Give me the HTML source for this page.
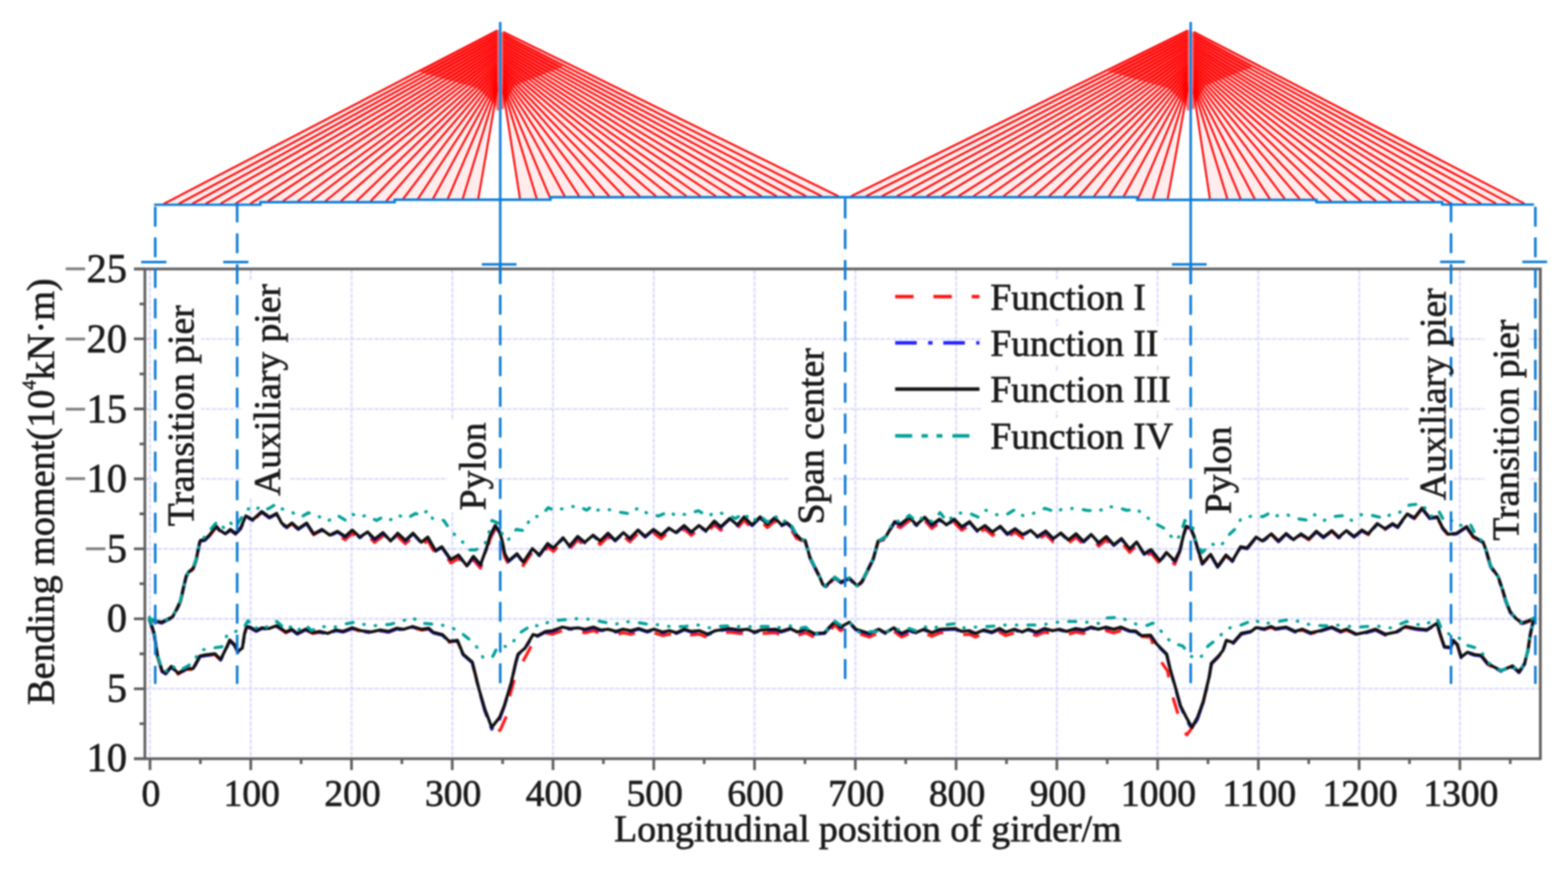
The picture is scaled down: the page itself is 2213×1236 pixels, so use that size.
<!DOCTYPE html>
<html><head><meta charset="utf-8"><style>
html,body{margin:0;padding:0;background:#fff;width:2213px;height:1236px;overflow:hidden}
svg{display:block}
#w{filter:blur(1px)}
text{stroke:#1a1a1a;stroke-width:0.9px}
</style></head><body>
<div id="w"><svg width="2213" height="1236" viewBox="0 0 2213 1236">
<path d="M211.7 381.5V1068.5M353.9 381.5V1068.5M496.1 381.5V1068.5M638.3 381.5V1068.5M780.5 381.5V1068.5M922.7 381.5V1068.5M1064.9 381.5V1068.5M1207.2 381.5V1068.5M1349.4 381.5V1068.5M1491.6 381.5V1068.5M1633.8 381.5V1068.5M1776.0 381.5V1068.5M1918.2 381.5V1068.5M2060.4 381.5V1068.5M206.5 478.2H2172M206.5 577.0H2172M206.5 675.7H2172M206.5 774.4H2172M206.5 873.1H2172M206.5 971.8H2172" stroke="#eeeefe" stroke-width="2.6" fill="none"/>
<path d="M211.7 381.5V1068.5M353.9 381.5V1068.5M496.1 381.5V1068.5M638.3 381.5V1068.5M780.5 381.5V1068.5M922.7 381.5V1068.5M1064.9 381.5V1068.5M1207.2 381.5V1068.5M1349.4 381.5V1068.5M1491.6 381.5V1068.5M1633.8 381.5V1068.5M1776.0 381.5V1068.5M1918.2 381.5V1068.5M2060.4 381.5V1068.5M206.5 478.2H2172M206.5 577.0H2172M206.5 675.7H2172M206.5 774.4H2172M206.5 873.1H2172M206.5 971.8H2172" stroke="#d8d8fc" stroke-width="2.6" stroke-dasharray="4 4.5" fill="none"/>
<rect x="216" y="425" width="68" height="321" fill="#fff"/>
<rect x="341" y="396" width="68" height="307" fill="#fff"/>
<rect x="631" y="593" width="66" height="130" fill="#fff"/>
<rect x="1113" y="486" width="63" height="257" fill="#fff"/>
<rect x="1688" y="598" width="65" height="130" fill="#fff"/>
<rect x="1989" y="402" width="63" height="307" fill="#fff"/>
<rect x="2095" y="445" width="62" height="321" fill="#fff"/>
<rect x="1385" y="395" width="240" height="55" fill="#fff"/>
<rect x="1385" y="460" width="257" height="55" fill="#fff"/>
<rect x="1385" y="525" width="273" height="55" fill="#fff"/>
<rect x="1385" y="590" width="275" height="55" fill="#fff"/>
<path d="M231.0 287.7L702.0 43.0L702.0 125.0L675.0 280.6ZM1183.5 277.0L710.0 45.0L710.0 128.0L733.9 280.6ZM1201.0 277.0L1676.5 43.0L1676.5 125.0L1648.0 280.8ZM2151.7 287.4L1684.5 45.0L1684.5 128.0L1707.6 280.8Z" fill="#ff0000" fill-opacity="0.07"/>
<path d="M704.0 42 L589.0 100.5 L674.5 124.6 L699.0 148 L701.0 156 L704.0 156ZM708.0 45 L794.7 93.7 L726.0 121 L712.0 146 L711.0 154 L708.0 154ZM1678.5 42 L1563.5 100.5 L1649.0 124.6 L1673.5 148 L1675.5 156 L1678.5 156ZM1682.5 45 L1769.2 93.7 L1700.5 121 L1686.5 146 L1685.5 154 L1682.5 154Z" fill="#ff0000" fill-opacity="0.6"/>
<path d="M231.0 287.7L702.0 43.0M252.0 287.7L702.0 46.9M271.0 287.7L702.0 50.8M290.0 287.7L702.0 54.7M311.0 287.7L702.0 58.6M332.0 287.7L702.0 62.5M353.0 287.7L702.0 66.4M378.0 284.0L702.0 70.3M399.0 284.0L702.0 74.2M420.0 284.0L702.0 78.1M439.0 284.0L702.0 82.0M459.0 284.0L702.0 86.0M481.0 284.0L702.0 89.9M503.0 284.0L702.0 93.8M523.0 284.0L702.0 97.7M545.0 284.0L702.0 101.6M569.0 280.6L702.0 105.5M590.0 280.6L702.0 109.4M611.0 280.6L702.0 113.3M632.0 280.6L702.0 117.2M653.0 280.6L702.0 121.1M675.0 280.6L702.0 125.0M1183.5 277.0L710.0 45.0M1160.0 277.0L710.0 49.0M1138.0 277.0L710.0 52.9M1117.0 277.0L710.0 56.9M1096.5 277.0L710.0 60.8M1075.0 277.0L710.0 64.8M1052.5 277.0L710.0 68.7M1032.0 277.0L710.0 72.7M1010.7 277.0L710.0 76.6M989.0 277.0L710.0 80.6M969.0 277.0L710.0 84.5M947.0 277.0L710.0 88.5M926.0 277.0L710.0 92.4M903.0 277.0L710.0 96.4M880.7 277.0L710.0 100.3M860.0 277.0L710.0 104.3M839.0 277.0L710.0 108.2M817.5 277.0L710.0 112.2M797.0 277.0L710.0 116.1M776.8 280.6L710.0 120.1M757.6 280.6L710.0 124.0M733.9 280.6L710.0 128.0M1201.0 277.0L1676.5 43.0M1222.0 277.0L1676.5 46.9M1244.4 277.0L1676.5 50.8M1265.6 277.0L1676.5 54.7M1286.7 277.0L1676.5 58.6M1307.8 277.0L1676.5 62.5M1329.0 277.0L1676.5 66.4M1352.5 277.0L1676.5 70.3M1373.7 277.0L1676.5 74.2M1394.8 277.0L1676.5 78.1M1416.0 277.0L1676.5 82.0M1437.0 277.0L1676.5 86.0M1459.4 277.0L1676.5 89.9M1480.5 277.0L1676.5 93.8M1501.6 277.0L1676.5 97.7M1522.8 277.0L1676.5 101.6M1544.0 277.0L1676.5 105.5M1565.0 277.0L1676.5 109.4M1586.0 277.0L1676.5 113.3M1606.0 280.8L1676.5 117.2M1627.0 280.8L1676.5 121.1M1648.0 280.8L1676.5 125.0M2151.7 287.4L1684.5 45.0M2131.7 287.4L1684.5 49.0M2111.7 287.4L1684.5 52.9M2090.6 287.4L1684.5 56.9M2069.4 287.4L1684.5 60.8M2048.3 287.4L1684.5 64.8M2024.8 284.1L1684.5 68.7M2003.7 284.1L1684.5 72.7M1983.7 284.1L1684.5 76.6M1963.7 284.1L1684.5 80.6M1942.6 284.1L1684.5 84.5M1921.4 284.1L1684.5 88.5M1900.3 284.1L1684.5 92.4M1879.0 284.1L1684.5 96.4M1858.0 284.1L1684.5 100.3M1834.5 280.8L1684.5 104.3M1813.3 280.8L1684.5 108.2M1792.2 280.8L1684.5 112.2M1771.0 280.8L1684.5 116.1M1751.0 280.8L1684.5 120.1M1732.3 280.8L1684.5 124.0M1707.6 280.8L1684.5 128.0" stroke="#ff0000" stroke-width="2.7" fill="none"/>
<path d="M217.4 288.9H367.5V285.2H557V281.8H777V278.2H1605V282.0H1858V285.3H2035.4V288.6H2165" stroke="#0a7ad6" stroke-width="3.4" fill="none"/>
<line x1="706.0" y1="31" x2="706.0" y2="400" stroke="#0a7ad6" stroke-width="3.4"/>
<line x1="1680.5" y1="31" x2="1680.5" y2="400" stroke="#0a7ad6" stroke-width="3.4"/>
<rect x="204.5" y="379.5" width="1969.5" height="691.0" fill="none" stroke="#5e5e5e" stroke-width="3.8"/>
<path d="M189.0 379.5H204.5M189.0 478.2H204.5M189.0 577.0H204.5M189.0 675.7H204.5M189.0 774.4H204.5M189.0 873.1H204.5M189.0 971.8H204.5M189.0 1070.5H204.5M197.0 428.9H204.5M197.0 527.6H204.5M197.0 626.3H204.5M197.0 725.0H204.5M197.0 823.7H204.5M197.0 922.5H204.5M197.0 1021.2H204.5M211.7 1070.5V1086.5M353.9 1070.5V1086.5M496.1 1070.5V1086.5M638.3 1070.5V1086.5M780.5 1070.5V1086.5M922.7 1070.5V1086.5M1064.9 1070.5V1086.5M1207.2 1070.5V1086.5M1349.4 1070.5V1086.5M1491.6 1070.5V1086.5M1633.8 1070.5V1086.5M1776.0 1070.5V1086.5M1918.2 1070.5V1086.5M2060.4 1070.5V1086.5M282.8 1070.5V1078.0M425.0 1070.5V1078.0M567.2 1070.5V1078.0M709.4 1070.5V1078.0M851.6 1070.5V1078.0M993.8 1070.5V1078.0M1136.1 1070.5V1078.0M1278.3 1070.5V1078.0M1420.5 1070.5V1078.0M1562.7 1070.5V1078.0M1704.9 1070.5V1078.0M1847.1 1070.5V1078.0M1989.3 1070.5V1078.0M2131.5 1070.5V1078.0" stroke="#5e5e5e" stroke-width="3.8" fill="none"/>
<g fill="none" stroke-width="4.35" stroke-linejoin="round">
<path d="M211.0 874.2 L220.0 877.2 L228.0 879.2 L236.0 875.2 L243.4 871.8 L249.6 860.2 L254.7 849.2 L259.6 827.2 L263.0 813.2 L266.0 808.7 L272.5 803.2 L277.0 790.2 L281.8 766.2 L283.0 763.7 L289.0 762.7 L296.3 755.4 L305.3 743.7 L309.8 749.1 L318.0 754.5 L325.2 748.2 L332.4 753.6 L339.6 746.2 L346.9 729.2 L350.5 731.0 L356.8 734.6 L369.5 722.9 L380.3 731.0 L390.3 725.6 L397.5 739.2 L404.7 744.6 L412.0 739.2 L421.0 747.2 L432.7 739.2 L442.7 754.5 L454.4 748.2 L465.3 756.3 L476.3 754.5 L487.2 761.7 L497.1 752.7 L508.0 762.6 L518.8 755.4 L528.7 765.4 L540.5 756.3 L551.3 768.1 L561.3 757.2 L572.1 767.2 L583.0 757.2 L594.7 769.9 L603.8 762.6 L614.6 781.6 L623.6 776.2 L636.3 794.3 L647.1 787.9 L658.9 803.3 L668.1 789.8 L678.1 801.5 L687.1 777.1 L691.6 760.8 L698.9 746.4 L705.2 755.4 L708.8 768.1 L712.4 786.1 L717.8 796.1 L729.6 786.1 L738.6 797.9 L751.3 778.9 L761.2 787.9 L773.0 771.7 L781.1 778.0 L794.7 763.5 L803.7 775.3 L815.4 761.7 L825.4 769.9 L837.1 759.9 L847.1 768.1 L858.1 757.2 L868.1 767.1 L879.8 756.3 L888.9 764.4 L900.6 752.6 L910.6 761.7 L922.3 751.7 L933.1 759.9 L944.0 749.9 L953.9 756.3 L965.7 746.3 L975.6 755.4 L986.5 746.3 L996.4 753.5 L1008.2 740.0 L1017.2 748.1 L1029.8 736.4 L1040.7 745.4 L1050.2 734.2 L1061.5 745.6 L1072.8 734.2 L1083.0 744.4 L1093.2 735.4 L1103.4 745.6 L1110.2 742.2 L1117.0 747.8 L1123.8 759.2 L1130.6 762.4 L1136.3 763.5 L1138.5 771.4 L1143.0 787.2 L1148.7 798.6 L1156.6 814.4 L1161.2 825.8 L1165.7 828.0 L1178.2 815.6 L1187.2 822.4 L1198.6 816.7 L1209.9 828.0 L1216.7 821.2 L1223.5 807.7 L1232.5 789.5 L1239.3 764.6 L1243.8 762.4 L1250.6 761.4 L1257.2 749.9 L1262.7 740.9 L1270.8 744.5 L1283.4 734.6 L1293.4 745.4 L1305.1 734.6 L1315.1 745.4 L1325.9 737.3 L1335.9 745.4 L1346.7 737.3 L1357.5 748.1 L1368.4 740.9 L1379.2 753.5 L1390.1 746.3 L1400.9 755.4 L1411.8 747.2 L1421.7 758.1 L1432.6 750.8 L1443.4 759.0 L1454.6 753.1 L1464.3 761.8 L1475.9 754.0 L1486.6 764.7 L1497.3 756.9 L1508.0 766.6 L1518.6 757.9 L1529.3 768.6 L1540.0 758.9 L1550.7 770.5 L1561.4 761.8 L1572.0 773.4 L1582.7 764.7 L1594.4 779.3 L1604.1 769.6 L1614.8 786.1 L1624.5 780.2 L1637.2 796.1 L1646.2 784.3 L1658.0 796.1 L1665.2 778.0 L1670.6 755.4 L1674.2 743.7 L1680.6 746.4 L1685.1 757.2 L1690.5 775.3 L1696.8 796.1 L1708.6 783.4 L1718.5 800.6 L1730.3 784.3 L1739.3 792.5 L1751.0 772.6 L1760.1 774.4 L1772.7 759.0 L1781.8 764.5 L1794.4 754.5 L1804.4 764.5 L1815.3 754.0 L1825.4 762.6 L1836.2 754.5 L1847.1 761.7 L1857.9 750.8 L1867.8 759.0 L1879.6 749.9 L1889.5 759.0 L1900.4 749.9 L1911.2 758.1 L1922.1 749.0 L1931.1 754.5 L1943.8 740.0 L1954.6 747.2 L1965.4 740.0 L1972.7 744.5 L1979.9 734.6 L1986.2 726.4 L1996.2 731.9 L2006.9 718.1 L2017.7 731.9 L2028.4 730.4 L2036.1 745.8 L2043.8 755.0 L2056.1 753.5 L2069.9 744.2 L2079.2 758.1 L2093.0 765.8 L2097.6 778.1 L2103.8 799.6 L2114.5 815.0 L2120.7 833.4 L2125.3 848.8 L2131.4 864.2 L2139.1 873.4 L2147.2 879.7 L2150.0 879.5 L2157.4 877.2 L2165.3 873.2" stroke="#ff1a1a" stroke-dasharray="24 29"/>
<path d="M211.0 874.2 L217.5 894.5 L222.4 926.8 L228.8 947.9 L233.7 951.2 L241.8 941.4 L251.5 951.2 L262.8 944.6 L272.5 944.6 L282.2 926.8 L290.3 925.2 L303.3 923.6 L311.4 931.7 L319.4 915.5 L324.3 904.2 L330.8 910.6 L335.6 920.4 L342.1 915.5 L345.0 895.9 L348.0 885.0 L352.9 886.0 L361.9 891.0 L369.8 887.0 L379.8 888.0 L390.7 884.0 L403.6 892.9 L411.6 889.0 L419.5 894.9 L431.5 889.0 L441.4 893.9 L451.3 892.0 L462.3 894.9 L474.2 890.0 L484.1 892.0 L497.1 887.0 L509.0 891.0 L523.9 892.9 L536.8 890.0 L548.7 892.0 L559.7 887.6 L569.4 889.2 L582.4 885.2 L595.3 889.2 L605.0 887.6 L611.5 893.3 L624.4 896.5 L634.1 906.2 L645.5 904.0 L653.6 923.0 L666.5 935.0 L670.0 948.0 L676.2 973.0 L684.3 1003.0 L692.0 1022.0 L700.0 1033.0 L706.0 1030.0 L715.0 1010.0 L720.0 980.0 L726.4 957.0 L737.7 934.0 L749.0 913.0 L758.0 899.0 L770.0 893.0 L779.9 894.8 L793.8 889.8 L804.7 891.8 L815.7 890.8 L825.6 892.8 L837.5 889.8 L847.5 893.8 L858.4 892.8 L869.3 895.8 L879.3 892.8 L890.2 894.8 L901.2 891.8 L913.1 895.8 L923.0 892.8 L935.0 896.8 L944.9 894.8 L954.8 897.8 L965.8 892.8 L975.0 895.8 L986.9 894.8 L998.8 899.8 L1009.8 894.8 L1029.6 891.8 L1043.6 893.8 L1054.5 892.8 L1064.4 896.8 L1074.4 893.8 L1094.3 892.8 L1102.2 895.8 L1115.1 891.8 L1125.1 896.8 L1137.0 892.8 L1148.9 898.8 L1163.8 897.8 L1170.8 889.8 L1178.7 881.9 L1186.0 889.8 L1198.9 882.9 L1207.8 892.8 L1226.7 898.8 L1240.6 892.8 L1249.6 897.8 L1261.5 890.8 L1272.4 898.8 L1283.4 893.8 L1292.3 897.8 L1304.3 892.8 L1315.2 897.8 L1327.1 892.8 L1348.0 891.8 L1356.9 895.8 L1367.9 894.8 L1376.8 898.8 L1388.7 893.8 L1399.9 896.8 L1410.9 891.8 L1419.8 896.8 L1431.7 892.8 L1442.7 896.8 L1451.6 892.8 L1462.6 896.8 L1474.5 891.8 L1485.4 894.8 L1495.4 892.8 L1505.3 895.8 L1518.2 891.8 L1529.2 893.8 L1540.1 889.8 L1550.0 892.8 L1561.0 889.8 L1571.9 892.8 L1581.8 889.8 L1593.8 894.8 L1603.0 895.5 L1611.0 898.0 L1624.0 899.0 L1632.0 924.0 L1648.0 947.0 L1653.0 976.0 L1660.0 999.0 L1668.0 1026.0 L1675.0 1037.0 L1683.0 1026.0 L1690.3 1012.0 L1698.4 990.0 L1706.5 956.4 L1709.7 937.0 L1719.4 927.2 L1725.9 919.2 L1730.8 904.6 L1740.5 907.8 L1751.8 894.9 L1766.4 891.7 L1772.8 886.8 L1784.2 888.4 L1793.9 885.2 L1800.0 888.0 L1814.9 886.0 L1827.8 892.0 L1837.8 889.0 L1849.7 894.0 L1863.6 891.0 L1879.5 886.0 L1892.4 892.0 L1900.4 889.0 L1914.3 896.0 L1928.2 893.0 L1941.2 889.0 L1955.1 896.0 L1970.0 893.0 L1983.9 885.0 L1998.8 888.0 L2013.6 889.7 L2028.3 880.6 L2032.8 896.5 L2038.5 913.5 L2047.6 914.6 L2051.0 904.4 L2056.6 910.1 L2062.3 928.2 L2071.3 921.4 L2081.5 924.8 L2090.6 925.9 L2099.7 937.3 L2107.6 941.8 L2118.9 947.5 L2134.8 940.7 L2143.8 949.2 L2151.8 937.3 L2156.3 919.2 L2159.7 896.5 L2163.1 880.6 L2164.5 874.2" stroke="#ff1a1a" stroke-dasharray="24 29"/>
<path d="M211.0 874.0 L220.0 877.0 L228.0 879.0 L236.0 875.0 L243.4 871.6 L249.6 860.0 L254.7 849.0 L259.6 827.0 L263.0 813.0 L266.0 808.5 L272.5 803.0 L277.0 790.0 L281.8 766.0 L283.0 763.5 L289.0 762.5 L296.3 755.2 L305.3 743.5 L309.8 748.9 L318.0 754.3 L325.2 748.0 L332.4 753.4 L339.6 746.0 L346.9 729.0 L350.5 730.8 L356.8 734.4 L369.5 722.7 L380.3 730.8 L390.3 725.4 L397.5 739.0 L404.7 744.4 L412.0 739.0 L421.0 747.0 L432.7 739.0 L442.7 754.3 L454.4 748.0 L465.3 756.1 L476.3 750.7 L487.2 757.9 L497.1 748.9 L508.0 758.8 L518.8 751.6 L528.7 761.6 L540.5 752.5 L551.3 764.3 L561.3 753.4 L572.1 763.4 L583.0 753.4 L594.7 766.1 L603.8 758.8 L614.6 777.8 L623.6 772.4 L636.3 790.5 L647.1 784.1 L658.9 799.5 L668.1 786.0 L678.1 797.7 L687.1 773.3 L691.6 757.0 L698.9 742.6 L705.2 751.6 L708.8 764.3 L712.4 782.3 L717.8 792.3 L729.6 782.3 L738.6 794.1 L751.3 775.1 L761.2 784.1 L773.0 767.9 L781.1 774.2 L794.7 759.7 L803.7 771.5 L815.4 757.9 L825.4 766.1 L837.1 756.1 L847.1 764.3 L858.1 753.4 L868.1 763.3 L879.8 752.5 L888.9 760.6 L900.6 748.8 L910.6 757.9 L922.3 747.9 L933.1 756.1 L944.0 746.1 L953.9 752.5 L965.7 742.5 L975.6 751.6 L986.5 742.5 L996.4 749.7 L1008.2 736.2 L1017.2 744.3 L1029.8 732.6 L1040.7 741.6 L1050.2 730.4 L1061.5 741.8 L1072.8 730.4 L1083.0 740.6 L1093.2 731.6 L1103.4 741.8 L1110.2 738.4 L1117.0 744.0 L1123.8 755.4 L1130.6 762.2 L1136.3 763.3 L1138.5 771.2 L1143.0 787.0 L1148.7 798.4 L1156.6 814.2 L1161.2 825.6 L1165.7 827.8 L1178.2 815.4 L1187.2 822.2 L1198.6 816.5 L1209.9 827.8 L1216.7 821.0 L1223.5 807.5 L1232.5 789.3 L1239.3 764.4 L1243.8 762.2 L1250.6 757.6 L1257.2 746.1 L1262.7 737.1 L1270.8 740.7 L1283.4 730.8 L1293.4 741.6 L1305.1 730.8 L1315.1 741.6 L1325.9 733.5 L1335.9 741.6 L1346.7 733.5 L1357.5 744.3 L1368.4 737.1 L1379.2 749.7 L1390.1 742.5 L1400.9 751.6 L1411.8 743.4 L1421.7 754.3 L1432.6 747.0 L1443.4 755.2 L1454.6 749.3 L1464.3 758.0 L1475.9 750.2 L1486.6 760.9 L1497.3 753.1 L1508.0 762.8 L1518.6 754.1 L1529.3 764.8 L1540.0 755.1 L1550.7 766.7 L1561.4 758.0 L1572.0 769.6 L1582.7 760.9 L1594.4 775.5 L1604.1 765.8 L1614.8 782.3 L1624.5 776.4 L1637.2 792.3 L1646.2 780.5 L1658.0 792.3 L1665.2 777.8 L1670.6 755.2 L1674.2 743.5 L1680.6 746.2 L1685.1 757.0 L1690.5 775.1 L1696.8 795.9 L1708.6 783.2 L1718.5 800.4 L1730.3 784.1 L1739.3 792.3 L1751.0 772.4 L1760.1 774.2 L1772.7 758.8 L1781.8 764.3 L1794.4 754.3 L1804.4 764.3 L1815.3 753.8 L1825.4 762.4 L1836.2 754.3 L1847.1 761.5 L1857.9 750.6 L1867.8 758.8 L1879.6 749.7 L1889.5 758.8 L1900.4 749.7 L1911.2 757.9 L1922.1 748.8 L1931.1 754.3 L1943.8 739.8 L1954.6 747.0 L1965.4 739.8 L1972.7 744.3 L1979.9 734.4 L1986.2 726.2 L1996.2 731.7 L2006.9 717.9 L2017.7 731.7 L2028.4 730.2 L2036.1 745.6 L2043.8 754.8 L2056.1 753.3 L2069.9 744.0 L2079.2 757.9 L2093.0 765.6 L2097.6 777.9 L2103.8 799.4 L2114.5 814.8 L2120.7 833.2 L2125.3 848.6 L2131.4 864.0 L2139.1 873.2 L2147.2 879.5 L2150.0 879.3 L2157.4 877.0 L2165.3 873.0" stroke="#2222ff" stroke-dasharray="32.6 14 8.3 13.1"/>
<path d="M211.0 874.0 L217.5 894.3 L222.4 926.6 L228.8 947.7 L233.7 951.0 L241.8 941.2 L251.5 951.0 L262.8 944.4 L272.5 944.4 L282.2 926.6 L290.3 925.0 L303.3 923.4 L311.4 931.5 L319.4 915.3 L324.3 904.0 L330.8 910.4 L335.6 920.2 L342.1 915.3 L345.0 895.7 L348.0 884.8 L352.9 885.8 L361.9 890.8 L369.8 886.8 L379.8 887.8 L390.7 883.8 L403.6 892.7 L411.6 888.8 L419.5 894.7 L431.5 888.8 L441.4 893.7 L451.3 891.8 L462.3 894.7 L474.2 889.8 L484.1 891.8 L497.1 886.8 L509.0 890.8 L523.9 892.7 L536.8 889.8 L548.7 891.8 L559.7 887.4 L569.4 889.0 L582.4 885.0 L595.3 889.0 L605.0 887.4 L611.5 893.1 L624.4 896.3 L634.1 906.0 L645.5 904.4 L653.6 923.8 L666.5 935.1 L669.7 948.1 L676.2 974.0 L684.3 1003.0 L694.0 1028.9 L705.3 1014.3 L711.8 996.6 L721.5 964.3 L728.0 935.1 L731.2 923.8 L740.9 915.7 L752.3 896.3 L758.7 897.9 L770.0 891.8 L779.9 890.8 L793.8 885.8 L804.7 887.8 L815.7 886.8 L825.6 888.8 L837.5 885.8 L847.5 889.8 L858.4 888.8 L869.3 891.8 L879.3 888.8 L890.2 890.8 L901.2 887.8 L913.1 891.8 L923.0 888.8 L935.0 892.8 L944.9 890.8 L954.8 893.8 L965.8 888.8 L975.0 891.8 L986.9 890.8 L998.8 895.8 L1009.8 890.8 L1029.6 887.8 L1043.6 889.8 L1054.5 888.8 L1064.4 892.8 L1074.4 889.8 L1094.3 888.8 L1102.2 891.8 L1115.1 887.8 L1125.1 892.8 L1137.0 888.8 L1148.9 894.8 L1163.8 893.8 L1170.8 885.8 L1178.7 877.9 L1186.0 885.8 L1198.9 878.9 L1207.8 888.8 L1226.7 894.8 L1240.6 888.8 L1249.6 893.8 L1261.5 886.8 L1272.4 894.8 L1283.4 889.8 L1292.3 893.8 L1304.3 888.8 L1315.2 893.8 L1327.1 888.8 L1348.0 887.8 L1356.9 891.8 L1367.9 890.8 L1376.8 894.8 L1388.7 889.8 L1399.9 892.8 L1410.9 887.8 L1419.8 892.8 L1431.7 888.8 L1442.7 892.8 L1451.6 888.8 L1462.6 892.8 L1474.5 887.8 L1485.4 890.8 L1495.4 888.8 L1505.3 891.8 L1518.2 887.8 L1529.2 889.8 L1540.1 885.8 L1550.0 888.8 L1561.0 885.8 L1571.9 888.8 L1581.8 885.8 L1593.8 890.8 L1603.0 891.5 L1611.0 897.9 L1624.0 897.1 L1632.1 909.3 L1646.6 923.8 L1651.5 944.9 L1658.0 967.5 L1666.0 996.6 L1674.1 1014.3 L1682.2 1028.9 L1690.3 1014.3 L1698.4 990.2 L1706.5 956.2 L1709.7 936.8 L1719.4 927.0 L1725.9 919.0 L1730.8 904.4 L1740.5 907.6 L1751.8 894.7 L1766.4 891.5 L1772.8 886.6 L1784.2 888.2 L1793.9 885.0 L1800.0 887.8 L1814.9 885.8 L1827.8 891.8 L1837.8 888.8 L1849.7 893.8 L1863.6 890.8 L1879.5 885.8 L1892.4 891.8 L1900.4 888.8 L1914.3 895.8 L1928.2 892.8 L1941.2 888.8 L1955.1 895.8 L1970.0 892.8 L1983.9 884.8 L1998.8 887.8 L2013.6 889.5 L2028.3 880.4 L2032.8 896.3 L2038.5 913.3 L2047.6 914.4 L2051.0 904.2 L2056.6 909.9 L2062.3 928.0 L2071.3 921.2 L2081.5 924.6 L2090.6 925.7 L2099.7 937.1 L2107.6 941.6 L2118.9 947.3 L2134.8 940.5 L2143.8 949.0 L2151.8 937.1 L2156.3 919.0 L2159.7 896.3 L2163.1 880.4 L2164.5 874.0" stroke="#2222ff" stroke-dasharray="32.6 14 8.3 13.1"/>
<path d="M211.0 873.0 L220.0 876.0 L228.0 878.0 L236.0 874.0 L243.4 870.6 L249.6 859.0 L254.7 848.0 L259.6 826.0 L263.0 812.0 L266.0 807.5 L272.5 802.0 L277.0 789.0 L281.8 765.0 L283.0 762.5 L289.0 761.5 L296.3 754.2 L305.3 742.5 L309.8 747.9 L318.0 753.3 L325.2 747.0 L332.4 752.4 L339.6 745.0 L346.9 728.0 L350.5 729.8 L356.8 733.4 L369.5 721.7 L380.3 729.8 L390.3 724.4 L397.5 738.0 L404.7 743.4 L412.0 738.0 L421.0 746.0 L432.7 738.0 L442.7 753.3 L454.4 747.0 L465.3 755.1 L476.3 749.7 L487.2 756.9 L497.1 747.9 L508.0 757.8 L518.8 750.6 L528.7 760.6 L540.5 751.5 L551.3 763.3 L561.3 752.4 L572.1 762.4 L583.0 752.4 L594.7 765.1 L603.8 757.8 L614.6 776.8 L623.6 771.4 L636.3 789.5 L647.1 783.1 L658.9 798.5 L668.1 785.0 L678.1 796.7 L687.1 772.3 L691.6 756.0 L698.9 741.6 L705.2 750.6 L708.8 763.3 L712.4 781.3 L717.8 791.3 L729.6 781.3 L738.6 793.1 L751.3 774.1 L761.2 783.1 L773.0 766.9 L781.1 773.2 L794.7 758.7 L803.7 770.5 L815.4 756.9 L825.4 765.1 L837.1 755.1 L847.1 763.3 L858.1 752.4 L868.1 762.3 L879.8 751.5 L888.9 759.6 L900.6 747.8 L910.6 756.9 L922.3 746.9 L933.1 755.1 L944.0 745.1 L953.9 751.5 L965.7 741.5 L975.6 750.6 L986.5 741.5 L996.4 748.7 L1008.2 735.2 L1017.2 743.3 L1029.8 731.6 L1040.7 740.6 L1050.2 729.4 L1061.5 740.8 L1072.8 729.4 L1083.0 739.6 L1093.2 730.6 L1103.4 740.8 L1110.2 737.4 L1117.0 743.0 L1123.8 754.4 L1130.6 761.2 L1136.3 762.3 L1138.5 770.2 L1143.0 786.0 L1148.7 797.4 L1156.6 813.2 L1161.2 824.6 L1165.7 826.8 L1178.2 814.4 L1187.2 821.2 L1198.6 815.5 L1209.9 826.8 L1216.7 820.0 L1223.5 806.5 L1232.5 788.3 L1239.3 763.4 L1243.8 761.2 L1250.6 756.6 L1257.2 745.1 L1262.7 736.1 L1270.8 739.7 L1283.4 729.8 L1293.4 740.6 L1305.1 729.8 L1315.1 740.6 L1325.9 732.5 L1335.9 740.6 L1346.7 732.5 L1357.5 743.3 L1368.4 736.1 L1379.2 748.7 L1390.1 741.5 L1400.9 750.6 L1411.8 742.4 L1421.7 753.3 L1432.6 746.0 L1443.4 754.2 L1454.6 748.3 L1464.3 757.0 L1475.9 749.2 L1486.6 759.9 L1497.3 752.1 L1508.0 761.8 L1518.6 753.1 L1529.3 763.8 L1540.0 754.1 L1550.7 765.7 L1561.4 757.0 L1572.0 768.6 L1582.7 759.9 L1594.4 774.5 L1604.1 764.8 L1614.8 781.3 L1624.5 775.4 L1637.2 791.3 L1646.2 779.5 L1658.0 791.3 L1665.2 776.8 L1670.6 754.2 L1674.2 742.5 L1680.6 745.2 L1685.1 756.0 L1690.5 774.1 L1696.8 794.9 L1708.6 782.2 L1718.5 799.4 L1730.3 783.1 L1739.3 791.3 L1751.0 771.4 L1760.1 773.2 L1772.7 757.8 L1781.8 763.3 L1794.4 753.3 L1804.4 763.3 L1815.3 752.8 L1825.4 761.4 L1836.2 753.3 L1847.1 760.5 L1857.9 749.6 L1867.8 757.8 L1879.6 748.7 L1889.5 757.8 L1900.4 748.7 L1911.2 756.9 L1922.1 747.8 L1931.1 753.3 L1943.8 738.8 L1954.6 746.0 L1965.4 738.8 L1972.7 743.3 L1979.9 733.4 L1986.2 725.2 L1996.2 730.7 L2006.9 716.9 L2017.7 730.7 L2028.4 729.2 L2036.1 744.6 L2043.8 753.8 L2056.1 752.3 L2069.9 743.0 L2079.2 756.9 L2093.0 764.6 L2097.6 776.9 L2103.8 798.4 L2114.5 813.8 L2120.7 832.2 L2125.3 847.6 L2131.4 863.0 L2139.1 872.2 L2147.2 878.5 L2150.0 878.3 L2157.4 876.0 L2165.3 872.0" stroke="#111"/>
<path d="M211.0 873.0 L217.5 893.3 L222.4 925.6 L228.8 946.7 L233.7 950.0 L241.8 940.2 L251.5 950.0 L262.8 943.4 L272.5 943.4 L282.2 925.6 L290.3 924.0 L303.3 922.4 L311.4 930.5 L319.4 914.3 L324.3 903.0 L330.8 909.4 L335.6 919.2 L342.1 914.3 L345.0 894.7 L348.0 883.8 L352.9 884.8 L361.9 889.8 L369.8 885.8 L379.8 886.8 L390.7 882.8 L403.6 891.7 L411.6 887.8 L419.5 893.7 L431.5 887.8 L441.4 892.7 L451.3 890.8 L462.3 893.7 L474.2 888.8 L484.1 890.8 L497.1 885.8 L509.0 889.8 L523.9 891.7 L536.8 888.8 L548.7 890.8 L559.7 886.4 L569.4 888.0 L582.4 884.0 L595.3 888.0 L605.0 886.4 L611.5 892.1 L624.4 895.3 L634.1 905.0 L645.5 903.4 L653.6 922.8 L666.5 934.1 L669.7 947.1 L676.2 973.0 L684.3 1000.5 L694.0 1026.4 L705.3 1011.8 L711.8 995.6 L721.5 963.3 L728.0 934.1 L731.2 922.8 L740.9 914.7 L752.3 895.3 L758.7 896.9 L770.0 890.8 L779.9 889.8 L793.8 884.8 L804.7 886.8 L815.7 885.8 L825.6 887.8 L837.5 884.8 L847.5 888.8 L858.4 887.8 L869.3 890.8 L879.3 887.8 L890.2 889.8 L901.2 886.8 L913.1 890.8 L923.0 887.8 L935.0 891.8 L944.9 889.8 L954.8 892.8 L965.8 887.8 L975.0 890.8 L986.9 889.8 L998.8 894.8 L1009.8 889.8 L1029.6 886.8 L1043.6 888.8 L1054.5 887.8 L1064.4 891.8 L1074.4 888.8 L1094.3 887.8 L1102.2 890.8 L1115.1 886.8 L1125.1 891.8 L1137.0 887.8 L1148.9 893.8 L1163.8 892.8 L1170.8 884.8 L1178.7 876.9 L1186.0 884.8 L1198.9 877.9 L1207.8 887.8 L1226.7 893.8 L1240.6 887.8 L1249.6 892.8 L1261.5 885.8 L1272.4 893.8 L1283.4 888.8 L1292.3 892.8 L1304.3 887.8 L1315.2 892.8 L1327.1 887.8 L1348.0 886.8 L1356.9 890.8 L1367.9 889.8 L1376.8 893.8 L1388.7 888.8 L1399.9 891.8 L1410.9 886.8 L1419.8 891.8 L1431.7 887.8 L1442.7 891.8 L1451.6 887.8 L1462.6 891.8 L1474.5 886.8 L1485.4 889.8 L1495.4 887.8 L1505.3 890.8 L1518.2 886.8 L1529.2 888.8 L1540.1 884.8 L1550.0 887.8 L1561.0 884.8 L1571.9 887.8 L1581.8 884.8 L1593.8 889.8 L1603.0 890.5 L1611.0 896.9 L1624.0 896.1 L1632.1 908.3 L1646.6 922.8 L1651.5 943.9 L1658.0 966.5 L1666.0 995.6 L1674.1 1011.8 L1682.2 1026.4 L1690.3 1011.8 L1698.4 989.2 L1706.5 955.2 L1709.7 935.8 L1719.4 926.0 L1725.9 918.0 L1730.8 903.4 L1740.5 906.6 L1751.8 893.7 L1766.4 890.5 L1772.8 885.6 L1784.2 887.2 L1793.9 884.0 L1800.0 886.8 L1814.9 884.8 L1827.8 890.8 L1837.8 887.8 L1849.7 892.8 L1863.6 889.8 L1879.5 884.8 L1892.4 890.8 L1900.4 887.8 L1914.3 894.8 L1928.2 891.8 L1941.2 887.8 L1955.1 894.8 L1970.0 891.8 L1983.9 883.8 L1998.8 886.8 L2013.6 888.5 L2028.3 879.4 L2032.8 895.3 L2038.5 912.3 L2047.6 913.4 L2051.0 903.2 L2056.6 908.9 L2062.3 927.0 L2071.3 920.2 L2081.5 923.6 L2090.6 924.7 L2099.7 936.1 L2107.6 940.6 L2118.9 946.3 L2134.8 939.5 L2143.8 948.0 L2151.8 936.1 L2156.3 918.0 L2159.7 895.3 L2163.1 879.4 L2164.5 873.0" stroke="#111"/>
<path d="M211.0 873.0 L220.0 876.0 L228.0 878.0 L236.0 874.0 L243.4 870.6 L249.6 859.0 L254.7 848.0 L259.6 826.0 L263.0 812.0 L266.0 807.5 L272.5 802.0 L277.0 789.0 L281.0 768.0 L289.0 757.0 L298.0 746.0 L307.0 735.5 L316.0 745.0 L324.3 736.0 L331.0 745.0 L338.0 735.0 L343.3 727.0 L350.5 718.0 L358.0 722.0 L365.9 715.4 L373.0 720.0 L380.3 717.0 L390.3 710.8 L398.0 718.0 L410.1 721.7 L424.6 729.8 L435.4 723.5 L445.4 729.0 L455.0 729.5 L462.6 735.2 L476.3 727.1 L488.0 734.3 L497.1 725.3 L508.0 730.0 L516.0 727.1 L531.5 734.3 L541.0 729.0 L551.3 733.4 L560.4 726.2 L574.0 731.6 L586.6 724.4 L594.0 728.0 L603.8 719.9 L611.0 732.5 L626.3 734.3 L637.2 750.6 L650.7 761.5 L660.7 775.9 L670.8 775.9 L680.0 772.0 L687.1 763.3 L694.3 734.3 L702.5 738.0 L707.0 750.6 L716.0 763.3 L728.7 747.0 L739.5 748.8 L749.5 729.8 L763.0 728.0 L773.9 716.3 L782.9 720.8 L789.2 719.0 L799.2 716.3 L815.4 713.6 L828.1 719.9 L836.2 713.6 L842.6 719.9 L855.4 718.0 L873.5 722.5 L890.7 725.2 L900.6 716.2 L915.1 725.2 L929.5 728.0 L944.9 721.6 L953.9 728.0 L969.3 725.2 L985.6 720.7 L1000.0 728.9 L1008.2 722.5 L1024.4 725.2 L1038.0 731.6 L1050.2 724.0 L1061.5 737.0 L1072.8 727.0 L1083.0 737.0 L1093.2 727.0 L1103.4 738.0 L1110.2 733.0 L1117.0 741.0 L1123.8 754.4 L1130.6 761.2 L1136.3 762.3 L1138.5 770.2 L1143.0 786.0 L1148.7 797.4 L1156.6 813.2 L1161.2 824.6 L1165.7 826.8 L1178.2 814.4 L1187.2 821.2 L1198.6 815.5 L1209.9 826.8 L1216.7 820.0 L1223.5 806.5 L1232.5 788.3 L1239.3 763.4 L1243.8 761.2 L1250.6 756.6 L1257.2 743.0 L1262.7 733.4 L1270.8 737.0 L1283.4 727.0 L1293.4 736.0 L1304.2 728.9 L1315.1 736.0 L1326.8 723.4 L1336.8 736.1 L1349.4 724.3 L1366.6 723.4 L1381.0 729.8 L1391.0 719.8 L1406.3 726.2 L1419.0 727.1 L1432.6 718.9 L1444.3 728.0 L1459.4 724.0 L1475.0 717.2 L1491.5 723.0 L1498.3 718.2 L1517.7 717.2 L1534.2 720.1 L1551.7 721.1 L1561.4 714.3 L1577.9 716.2 L1590.5 720.1 L1605.0 718.2 L1614.8 728.8 L1620.0 730.8 L1630.8 738.9 L1644.4 746.1 L1658.0 763.3 L1665.2 756.0 L1672.4 734.3 L1683.3 742.5 L1686.9 761.5 L1696.8 779.5 L1708.6 766.9 L1722.1 771.4 L1735.7 753.3 L1744.7 745.2 L1752.0 730.7 L1768.2 728.0 L1782.7 728.9 L1794.4 722.6 L1800.8 728.0 L1814.3 725.3 L1829.0 731.6 L1847.1 734.3 L1855.2 726.2 L1868.7 734.3 L1882.3 728.9 L1900.4 727.1 L1907.6 734.3 L1921.2 726.2 L1936.5 727.1 L1955.5 731.6 L1963.6 724.3 L1976.3 722.5 L1988.9 712.6 L2006.9 710.8 L2019.2 729.2 L2030.0 720.0 L2039.2 736.9 L2051.5 733.8 L2060.7 741.5 L2074.5 738.4 L2082.2 753.8 L2093.0 764.6 L2097.6 776.9 L2103.8 798.4 L2114.5 813.8 L2120.7 832.2 L2125.3 847.6 L2131.4 863.0 L2139.1 872.2 L2147.2 878.5 L2150.0 878.3 L2157.4 876.0 L2165.3 872.0" stroke="#00a098" stroke-linecap="round" stroke-dasharray="10 15.3 0.8 15.5 0.8 15.6"/>
<path d="M211.0 871.0 L217.5 893.0 L222.4 925.0 L228.8 945.0 L233.7 948.0 L241.8 938.0 L251.5 947.0 L262.8 941.0 L272.5 935.0 L282.2 917.5 L300.0 914.3 L313.0 912.7 L321.0 894.9 L330.0 893.0 L338.0 887.0 L345.0 884.0 L350.0 875.8 L358.9 887.8 L367.8 881.8 L375.8 884.8 L390.7 876.8 L403.6 888.8 L412.6 882.8 L419.5 889.8 L431.5 881.8 L439.4 889.8 L453.3 883.8 L469.2 885.8 L485.1 880.8 L501.0 877.8 L516.9 881.8 L528.9 882.8 L550.7 880.8 L566.2 876.7 L582.4 871.0 L592.1 879.1 L611.5 880.7 L626.0 882.4 L645.5 888.8 L660.0 900.2 L673.0 913.1 L682.7 929.3 L695.6 926.0 L702.1 913.1 L719.9 911.5 L732.8 893.7 L752.3 880.7 L760.4 884.0 L775.9 876.9 L790.8 874.9 L814.7 872.9 L834.6 873.9 L852.4 877.9 L869.3 880.8 L879.3 876.9 L897.2 877.9 L915.1 880.8 L935.0 881.8 L948.9 884.8 L966.8 883.8 L986.9 881.8 L1000.0 886.0 L1009.8 884.0 L1030.0 883.0 L1044.0 884.0 L1054.5 883.0 L1064.4 886.0 L1074.4 884.0 L1094.3 884.0 L1102.2 886.0 L1115.1 883.0 L1125.1 887.0 L1137.0 885.0 L1148.9 894.8 L1163.8 892.8 L1170.8 884.8 L1178.7 876.9 L1186.0 882.0 L1198.9 878.5 L1207.8 884.8 L1212.8 892.8 L1235.7 890.8 L1249.6 892.0 L1261.5 886.0 L1272.4 890.0 L1283.4 886.8 L1292.3 890.0 L1304.3 884.0 L1315.2 888.0 L1326.1 882.8 L1348.0 879.9 L1357.0 886.0 L1376.8 884.8 L1397.7 883.8 L1419.8 881.8 L1449.6 881.8 L1469.5 881.8 L1499.3 876.9 L1516.2 876.9 L1534.1 877.9 L1553.0 879.9 L1561.0 871.9 L1580.9 870.9 L1598.8 878.9 L1610.0 882.8 L1619.1 882.4 L1627.2 879.1 L1641.8 893.7 L1653.1 906.6 L1669.3 911.5 L1680.6 926.0 L1693.6 929.3 L1704.9 911.5 L1719.4 900.2 L1730.8 887.2 L1750.2 882.4 L1771.2 874.3 L1781.0 880.7 L1800.4 877.5 L1814.9 874.9 L1835.8 876.9 L1849.7 882.0 L1870.0 883.0 L1890.0 882.0 L1914.3 885.0 L1941.2 883.0 L1963.0 886.0 L1984.9 876.9 L2008.0 883.0 L2028.3 872.6 L2034.0 886.2 L2047.6 896.4 L2058.9 899.8 L2069.0 910.0 L2088.3 915.7 L2099.7 934.1 L2107.6 940.6 L2118.9 946.3 L2134.8 939.5 L2143.8 948.0 L2151.8 936.1 L2156.3 918.0 L2159.7 895.3 L2163.1 879.4 L2164.5 873.0" stroke="#00a098" stroke-linecap="round" stroke-dasharray="10 15.3 0.8 15.5 0.8 15.6"/>
</g>
<line x1="219.1" y1="291.8" x2="219.1" y2="965" stroke="#0a7ad6" stroke-width="3.6" stroke-dasharray="28.0 15.18"/>
<line x1="334.7" y1="285.8" x2="334.7" y2="965" stroke="#0a7ad6" stroke-width="3.6" stroke-dasharray="28.0 15.55"/>
<line x1="706.0" y1="372.7" x2="706.0" y2="965" stroke="#0a7ad6" stroke-width="3.6" stroke-dasharray="28.0 15.33"/>
<line x1="1192.8" y1="280.3" x2="1192.8" y2="965" stroke="#0a7ad6" stroke-width="3.6" stroke-dasharray="28.0 15.32"/>
<line x1="1680.5" y1="373.0" x2="1680.5" y2="965" stroke="#0a7ad6" stroke-width="3.6" stroke-dasharray="28.0 15.30"/>
<line x1="2047.9" y1="285.6" x2="2047.9" y2="965" stroke="#0a7ad6" stroke-width="3.6" stroke-dasharray="28.0 15.59"/>
<line x1="2166.9" y1="291.8" x2="2166.9" y2="965" stroke="#0a7ad6" stroke-width="3.6" stroke-dasharray="28.0 15.18"/>
<line x1="199.3" y1="369.8" x2="234.8" y2="369.8" stroke="#0a7ad6" stroke-width="3.4"/>
<line x1="315.1" y1="369.8" x2="350.6" y2="369.8" stroke="#0a7ad6" stroke-width="3.4"/>
<line x1="680.0" y1="373" x2="729.0" y2="373" stroke="#0a7ad6" stroke-width="3.4"/>
<line x1="2032.5" y1="369.5" x2="2067.5" y2="369.5" stroke="#0a7ad6" stroke-width="3.4"/>
<line x1="2148.5" y1="369.5" x2="2183.5" y2="369.5" stroke="#0a7ad6" stroke-width="3.4"/>
<line x1="1654.0" y1="373" x2="1703.0" y2="373" stroke="#0a7ad6" stroke-width="3.4"/>
<g font-family='"Liberation Serif", "Times New Roman", serif' font-size="53" fill="#1a1a1a"><text x="179.3" y="398.3" text-anchor="end" font-size="57"><tspan fill="#7a7a7a" stroke="#7a7a7a">−</tspan>25</text><text x="179.3" y="496.9" text-anchor="end" font-size="57"><tspan fill="#7a7a7a" stroke="#7a7a7a">−</tspan>20</text><text x="179.3" y="595.5" text-anchor="end" font-size="57"><tspan fill="#7a7a7a" stroke="#7a7a7a">−</tspan>15</text><text x="179.3" y="694.0" text-anchor="end" font-size="57"><tspan fill="#7a7a7a" stroke="#7a7a7a">−</tspan>10</text><text x="179.3" y="792.6" text-anchor="end" font-size="57"><tspan fill="#7a7a7a" stroke="#7a7a7a">−</tspan>5</text><text x="179.3" y="891.1" text-anchor="end" font-size="57">0</text><text x="179.3" y="989.7" text-anchor="end" font-size="57">5</text><text x="179.3" y="1088.3" text-anchor="end" font-size="57">10</text><text x="213.0" y="1137.3" text-anchor="middle">0</text><text x="355.2" y="1137.3" text-anchor="middle">100</text><text x="497.4" y="1137.3" text-anchor="middle">200</text><text x="639.6" y="1137.3" text-anchor="middle">300</text><text x="781.8" y="1137.3" text-anchor="middle">400</text><text x="924.0" y="1137.3" text-anchor="middle">500</text><text x="1066.2" y="1137.3" text-anchor="middle">600</text><text x="1208.5" y="1137.3" text-anchor="middle">700</text><text x="1350.7" y="1137.3" text-anchor="middle">800</text><text x="1492.9" y="1137.3" text-anchor="middle">900</text><text x="1635.1" y="1137.3" text-anchor="middle">1000</text><text x="1777.3" y="1137.3" text-anchor="middle">1100</text><text x="1919.5" y="1137.3" text-anchor="middle">1200</text><text x="2061.7" y="1137.3" text-anchor="middle">1300</text></g>
<text x="1224.8" y="1187" text-anchor="middle" font-family='"Liberation Serif", "Times New Roman", serif' font-size="53.4" fill="#1a1a1a">Longitudinal position of girder/m</text>
<text transform="translate(76,693.6) rotate(-90)" text-anchor="middle" font-family='"Liberation Serif", "Times New Roman", serif' font-size="53.9" fill="#1a1a1a">Bending moment(10<tspan font-size="27" dy="-26">4</tspan><tspan dy="26">kN·m)</tspan></text>
<text transform="translate(272.5,742.5) rotate(-90)" font-family='"Liberation Serif", "Times New Roman", serif' font-size="53" fill="#1a1a1a">Transition pier</text>
<text transform="translate(394.5,699.5) rotate(-90)" font-family='"Liberation Serif", "Times New Roman", serif' font-size="53" fill="#1a1a1a">Auxiliary pier</text>
<text transform="translate(684.5,720) rotate(-90)" font-family='"Liberation Serif", "Times New Roman", serif' font-size="53" fill="#1a1a1a">Pylon</text>
<text transform="translate(1161.5,740) rotate(-90)" font-family='"Liberation Serif", "Times New Roman", serif' font-size="53" fill="#1a1a1a">Span center</text>
<text transform="translate(1737,725.5) rotate(-90)" font-family='"Liberation Serif", "Times New Roman", serif' font-size="53" fill="#1a1a1a">Pylon</text>
<text transform="translate(2039.5,705.7) rotate(-90)" font-family='"Liberation Serif", "Times New Roman", serif' font-size="53" fill="#1a1a1a">Auxiliary pier</text>
<text transform="translate(2143,762.7) rotate(-90)" font-family='"Liberation Serif", "Times New Roman", serif' font-size="53" fill="#1a1a1a">Transition pier</text>
<line x1="1263.4" y1="418.6" x2="1382.4" y2="418.6" stroke="#ff1a1a" stroke-width="5" stroke-dasharray="26 28"/>
<text x="1397.8" y="436.9" font-family='"Liberation Serif", "Times New Roman", serif' font-size="53" fill="#1a1a1a">Function I</text>
<line x1="1263.4" y1="483.7" x2="1382.4" y2="483.7" stroke="#2222ff" stroke-width="5" stroke-dasharray="30.5 16 6.3 15.1"/>
<text x="1397.8" y="502.0" font-family='"Liberation Serif", "Times New Roman", serif' font-size="53" fill="#1a1a1a">Function II</text>
<line x1="1263.4" y1="548.9" x2="1382.4" y2="548.9" stroke="#111111" stroke-width="5"/>
<text x="1397.8" y="567.2" font-family='"Liberation Serif", "Times New Roman", serif' font-size="53" fill="#1a1a1a">Function III</text>
<line x1="1263.4" y1="614.9" x2="1369.4" y2="614.9" stroke="#00a098" stroke-width="5" stroke-dasharray="24 13.2 9 12.2 8.3 14.1"/>
<text x="1397.8" y="633.2" font-family='"Liberation Serif", "Times New Roman", serif' font-size="53" fill="#1a1a1a">Function IV</text>
</svg></div></body></html>
